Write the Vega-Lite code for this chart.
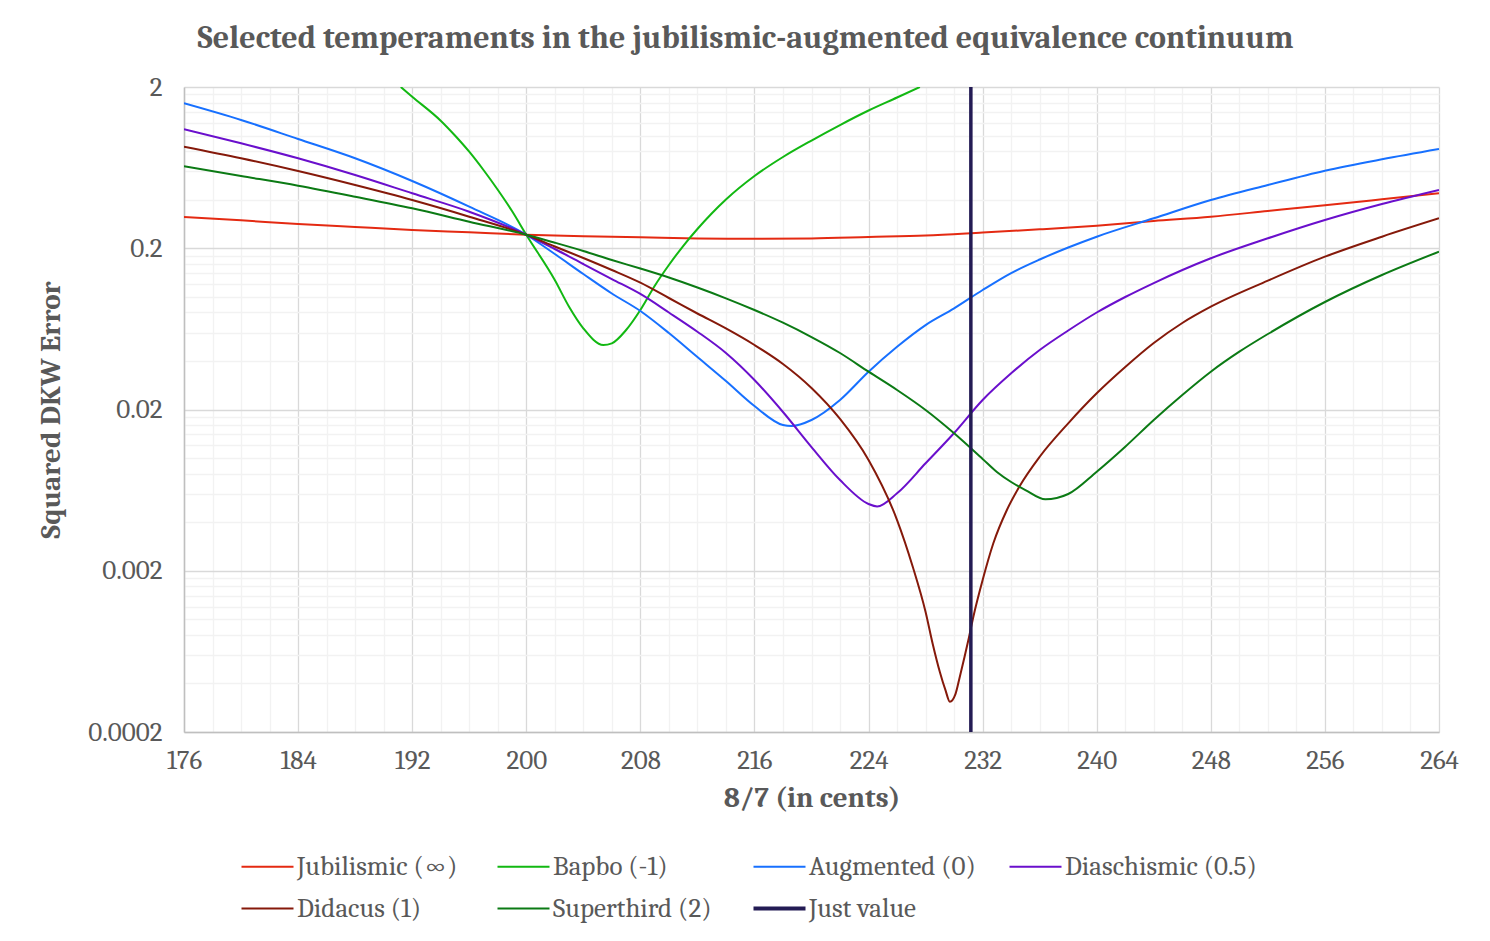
{
  "$schema": "https://vega.github.io/schema/vega-lite/v6.json",
  "width": 1255,
  "height": 645,
  "autosize": {"type": "none"},
  "padding": {"left": 184, "top": 87, "right": 51, "bottom": 209},
  "background": "#ffffff",
  "title": {
    "text": "Selected temperaments in the jubilismic-augmented equivalence continuum",
    "font": "Cambria, DejaVu Serif Condensed, DejaVu Serif, serif",
    "fontSize": 32,
    "fontWeight": "bold",
    "color": "#595959",
    "anchor": "middle",
    "dx": -66,
    "offset": 18
  },
  "config": {
    "view": {"stroke": null},
    "font": "Cambria, DejaVu Serif Condensed, DejaVu Serif, serif",
    "axis": {
      "labelFont": "Cambria, DejaVu Serif Condensed, DejaVu Serif, serif",
      "titleFont": "Cambria, DejaVu Serif Condensed, DejaVu Serif, serif",
      "labelColor": "#595959",
      "titleColor": "#595959",
      "labelFontSize": 27,
      "titleFontSize": 29,
      "titleFontWeight": "bold",
      "ticks": false,
      "domainColor": "#bfbfbf",
      "domainWidth": 1.5,
      "gridWidth": 1.3
    },
    "legend": {
      "labelFont": "Cambria, DejaVu Serif Condensed, DejaVu Serif, serif",
      "labelColor": "#595959",
      "labelFontSize": 27
    }
  },
  "datasets": {
    "curves": [
      {"series": "Jubilismic (∞)", "cents": 176, "error": 0.3126},
      {"series": "Jubilismic (∞)", "cents": 180, "error": 0.298},
      {"series": "Jubilismic (∞)", "cents": 184, "error": 0.2828},
      {"series": "Jubilismic (∞)", "cents": 188, "error": 0.2709},
      {"series": "Jubilismic (∞)", "cents": 192, "error": 0.2596},
      {"series": "Jubilismic (∞)", "cents": 196, "error": 0.2511},
      {"series": "Jubilismic (∞)", "cents": 200, "error": 0.2425},
      {"series": "Jubilismic (∞)", "cents": 204, "error": 0.2372},
      {"series": "Jubilismic (∞)", "cents": 208, "error": 0.2339},
      {"series": "Jubilismic (∞)", "cents": 212, "error": 0.2302},
      {"series": "Jubilismic (∞)", "cents": 216, "error": 0.2292},
      {"series": "Jubilismic (∞)", "cents": 220, "error": 0.2302},
      {"series": "Jubilismic (∞)", "cents": 224, "error": 0.2349},
      {"series": "Jubilismic (∞)", "cents": 228, "error": 0.2399},
      {"series": "Jubilismic (∞)", "cents": 232, "error": 0.2504},
      {"series": "Jubilismic (∞)", "cents": 236, "error": 0.262},
      {"series": "Jubilismic (∞)", "cents": 240, "error": 0.276},
      {"series": "Jubilismic (∞)", "cents": 244, "error": 0.2951},
      {"series": "Jubilismic (∞)", "cents": 248, "error": 0.3139},
      {"series": "Jubilismic (∞)", "cents": 252, "error": 0.3404},
      {"series": "Jubilismic (∞)", "cents": 256, "error": 0.3694},
      {"series": "Jubilismic (∞)", "cents": 260, "error": 0.4023},
      {"series": "Jubilismic (∞)", "cents": 264, "error": 0.4384},

      {"series": "Bapbo (-1)", "cents": 191.2, "error": 2.0},
      {"series": "Bapbo (-1)", "cents": 192, "error": 1.741},
      {"series": "Bapbo (-1)", "cents": 194, "error": 1.236},
      {"series": "Bapbo (-1)", "cents": 195, "error": 1.0005},
      {"series": "Bapbo (-1)", "cents": 196, "error": 0.7937},
      {"series": "Bapbo (-1)", "cents": 197, "error": 0.6113},
      {"series": "Bapbo (-1)", "cents": 198, "error": 0.4614},
      {"series": "Bapbo (-1)", "cents": 199, "error": 0.3404},
      {"series": "Bapbo (-1)", "cents": 200, "error": 0.2425},
      {"series": "Bapbo (-1)", "cents": 202, "error": 0.1271},
      {"series": "Bapbo (-1)", "cents": 203, "error": 0.08682},
      {"series": "Bapbo (-1)", "cents": 204, "error": 0.06378},
      {"series": "Bapbo (-1)", "cents": 205.4, "error": 0.05023},
      {"series": "Bapbo (-1)", "cents": 206, "error": 0.05146},
      {"series": "Bapbo (-1)", "cents": 207, "error": 0.06223},
      {"series": "Bapbo (-1)", "cents": 208, "error": 0.08281},
      {"series": "Bapbo (-1)", "cents": 209, "error": 0.1167},
      {"series": "Bapbo (-1)", "cents": 210, "error": 0.1574},
      {"series": "Bapbo (-1)", "cents": 211, "error": 0.2065},
      {"series": "Bapbo (-1)", "cents": 212, "error": 0.2633},
      {"series": "Bapbo (-1)", "cents": 213, "error": 0.3285},
      {"series": "Bapbo (-1)", "cents": 214, "error": 0.4012},
      {"series": "Bapbo (-1)", "cents": 216, "error": 0.5612},
      {"series": "Bapbo (-1)", "cents": 218, "error": 0.7363},
      {"series": "Bapbo (-1)", "cents": 220, "error": 0.9316},
      {"series": "Bapbo (-1)", "cents": 222, "error": 1.1622},
      {"series": "Bapbo (-1)", "cents": 224, "error": 1.4301},
      {"series": "Bapbo (-1)", "cents": 226, "error": 1.7218},
      {"series": "Bapbo (-1)", "cents": 227.6, "error": 2.0},

      {"series": "Augmented (0)", "cents": 176, "error": 1.585},
      {"series": "Augmented (0)", "cents": 180, "error": 1.2487},
      {"series": "Augmented (0)", "cents": 184, "error": 0.9517},
      {"series": "Augmented (0)", "cents": 188, "error": 0.7227},
      {"series": "Augmented (0)", "cents": 192, "error": 0.5224},
      {"series": "Augmented (0)", "cents": 196, "error": 0.362},
      {"series": "Augmented (0)", "cents": 200, "error": 0.2425},
      {"series": "Augmented (0)", "cents": 202, "error": 0.1842},
      {"series": "Augmented (0)", "cents": 204, "error": 0.1384},
      {"series": "Augmented (0)", "cents": 206, "error": 0.1048},
      {"series": "Augmented (0)", "cents": 208, "error": 0.08164},
      {"series": "Augmented (0)", "cents": 210, "error": 0.05962},
      {"series": "Augmented (0)", "cents": 212, "error": 0.04232},
      {"series": "Augmented (0)", "cents": 214, "error": 0.03004},
      {"series": "Augmented (0)", "cents": 216, "error": 0.02102},
      {"series": "Augmented (0)", "cents": 218, "error": 0.01603},
      {"series": "Augmented (0)", "cents": 218.6, "error": 0.0158},
      {"series": "Augmented (0)", "cents": 220, "error": 0.01722},
      {"series": "Augmented (0)", "cents": 222, "error": 0.02291},
      {"series": "Augmented (0)", "cents": 224, "error": 0.03431},
      {"series": "Augmented (0)", "cents": 226, "error": 0.04902},
      {"series": "Augmented (0)", "cents": 228, "error": 0.0668},
      {"series": "Augmented (0)", "cents": 230, "error": 0.0848},
      {"series": "Augmented (0)", "cents": 232, "error": 0.1102},
      {"series": "Augmented (0)", "cents": 234, "error": 0.1404},
      {"series": "Augmented (0)", "cents": 236, "error": 0.1703},
      {"series": "Augmented (0)", "cents": 238, "error": 0.2021},
      {"series": "Augmented (0)", "cents": 240, "error": 0.2359},
      {"series": "Augmented (0)", "cents": 244, "error": 0.3067},
      {"series": "Augmented (0)", "cents": 248, "error": 0.3983},
      {"series": "Augmented (0)", "cents": 252, "error": 0.4934},
      {"series": "Augmented (0)", "cents": 256, "error": 0.605},
      {"series": "Augmented (0)", "cents": 260, "error": 0.7125},
      {"series": "Augmented (0)", "cents": 264, "error": 0.8254},

      {"series": "Diaschismic (0.5)", "cents": 176, "error": 1.093},
      {"series": "Diaschismic (0.5)", "cents": 180, "error": 0.8953},
      {"series": "Diaschismic (0.5)", "cents": 184, "error": 0.7227},
      {"series": "Diaschismic (0.5)", "cents": 188, "error": 0.5692},
      {"series": "Diaschismic (0.5)", "cents": 192, "error": 0.4384},
      {"series": "Diaschismic (0.5)", "cents": 196, "error": 0.3371},
      {"series": "Diaschismic (0.5)", "cents": 200, "error": 0.2425},
      {"series": "Diaschismic (0.5)", "cents": 202, "error": 0.1979},
      {"series": "Diaschismic (0.5)", "cents": 204, "error": 0.1597},
      {"series": "Diaschismic (0.5)", "cents": 206, "error": 0.1289},
      {"series": "Diaschismic (0.5)", "cents": 208, "error": 0.1041},
      {"series": "Diaschismic (0.5)", "cents": 210, "error": 0.0799},
      {"series": "Diaschismic (0.5)", "cents": 212, "error": 0.06074},
      {"series": "Diaschismic (0.5)", "cents": 214, "error": 0.04482},
      {"series": "Diaschismic (0.5)", "cents": 216, "error": 0.03048},
      {"series": "Diaschismic (0.5)", "cents": 218, "error": 0.0193},
      {"series": "Diaschismic (0.5)", "cents": 220, "error": 0.0117},
      {"series": "Diaschismic (0.5)", "cents": 222, "error": 0.007307},
      {"series": "Diaschismic (0.5)", "cents": 224, "error": 0.005188},
      {"series": "Diaschismic (0.5)", "cents": 224.6, "error": 0.005005},
      {"series": "Diaschismic (0.5)", "cents": 226, "error": 0.006045},
      {"series": "Diaschismic (0.5)", "cents": 228, "error": 0.009278},
      {"series": "Diaschismic (0.5)", "cents": 230, "error": 0.0143},
      {"series": "Diaschismic (0.5)", "cents": 232, "error": 0.02291},
      {"series": "Diaschismic (0.5)", "cents": 234, "error": 0.03354},
      {"series": "Diaschismic (0.5)", "cents": 236, "error": 0.04677},
      {"series": "Diaschismic (0.5)", "cents": 238, "error": 0.06178},
      {"series": "Diaschismic (0.5)", "cents": 240, "error": 0.0799},
      {"series": "Diaschismic (0.5)", "cents": 242, "error": 0.0997},
      {"series": "Diaschismic (0.5)", "cents": 244, "error": 0.1217},
      {"series": "Diaschismic (0.5)", "cents": 248, "error": 0.1733},
      {"series": "Diaschismic (0.5)", "cents": 252, "error": 0.2305},
      {"series": "Diaschismic (0.5)", "cents": 256, "error": 0.2994},
      {"series": "Diaschismic (0.5)", "cents": 260, "error": 0.3762},
      {"series": "Diaschismic (0.5)", "cents": 264, "error": 0.4596},

      {"series": "Didacus (1)", "cents": 176, "error": 0.8527},
      {"series": "Didacus (1)", "cents": 180, "error": 0.7227},
      {"series": "Didacus (1)", "cents": 184, "error": 0.6025},
      {"series": "Didacus (1)", "cents": 188, "error": 0.4934},
      {"series": "Didacus (1)", "cents": 192, "error": 0.3983},
      {"series": "Didacus (1)", "cents": 196, "error": 0.3139},
      {"series": "Didacus (1)", "cents": 200, "error": 0.2425},
      {"series": "Didacus (1)", "cents": 202, "error": 0.2051},
      {"series": "Didacus (1)", "cents": 204, "error": 0.174},
      {"series": "Didacus (1)", "cents": 206, "error": 0.1466},
      {"series": "Didacus (1)", "cents": 208, "error": 0.1223},
      {"series": "Didacus (1)", "cents": 210, "error": 0.09829},
      {"series": "Didacus (1)", "cents": 212, "error": 0.07877},
      {"series": "Didacus (1)", "cents": 214, "error": 0.06359},
      {"series": "Didacus (1)", "cents": 216, "error": 0.05023},
      {"series": "Didacus (1)", "cents": 218, "error": 0.03831},
      {"series": "Didacus (1)", "cents": 220, "error": 0.02719},
      {"series": "Didacus (1)", "cents": 222, "error": 0.01747},
      {"series": "Didacus (1)", "cents": 224, "error": 0.009723},
      {"series": "Didacus (1)", "cents": 226, "error": 0.004126},
      {"series": "Didacus (1)", "cents": 227.1, "error": 0.002119},
      {"series": "Didacus (1)", "cents": 228, "error": 0.00111},
      {"series": "Didacus (1)", "cents": 228.5, "error": 0.000703},
      {"series": "Didacus (1)", "cents": 229, "error": 0.000471},
      {"series": "Didacus (1)", "cents": 229.4, "error": 0.000362},
      {"series": "Didacus (1)", "cents": 229.7, "error": 0.0003083},
      {"series": "Didacus (1)", "cents": 230.1, "error": 0.000345},
      {"series": "Didacus (1)", "cents": 230.4, "error": 0.0004406},
      {"series": "Didacus (1)", "cents": 231, "error": 0.000744},
      {"series": "Didacus (1)", "cents": 231.35, "error": 0.001038},
      {"series": "Didacus (1)", "cents": 232, "error": 0.001752},
      {"series": "Didacus (1)", "cents": 232.75, "error": 0.00296},
      {"series": "Didacus (1)", "cents": 233.7, "error": 0.004762},
      {"series": "Didacus (1)", "cents": 234.6, "error": 0.006707},
      {"series": "Didacus (1)", "cents": 236, "error": 0.01019},
      {"series": "Didacus (1)", "cents": 238, "error": 0.01642},
      {"series": "Didacus (1)", "cents": 240, "error": 0.02521},
      {"series": "Didacus (1)", "cents": 242, "error": 0.03669},
      {"series": "Didacus (1)", "cents": 244, "error": 0.05168},
      {"series": "Didacus (1)", "cents": 246, "error": 0.0688},
      {"series": "Didacus (1)", "cents": 248, "error": 0.08682},
      {"series": "Didacus (1)", "cents": 252, "error": 0.1259},
      {"series": "Didacus (1)", "cents": 256, "error": 0.1773},
      {"series": "Didacus (1)", "cents": 260, "error": 0.2359},
      {"series": "Didacus (1)", "cents": 264, "error": 0.3067},

      {"series": "Superthird (2)", "cents": 176, "error": 0.6443},
      {"series": "Superthird (2)", "cents": 180, "error": 0.5612},
      {"series": "Superthird (2)", "cents": 184, "error": 0.4886},
      {"series": "Superthird (2)", "cents": 188, "error": 0.4175},
      {"series": "Superthird (2)", "cents": 192, "error": 0.3538},
      {"series": "Superthird (2)", "cents": 196, "error": 0.2922},
      {"series": "Superthird (2)", "cents": 200, "error": 0.2425},
      {"series": "Superthird (2)", "cents": 202, "error": 0.2165},
      {"series": "Superthird (2)", "cents": 204, "error": 0.1923},
      {"series": "Superthird (2)", "cents": 206, "error": 0.169},
      {"series": "Superthird (2)", "cents": 208, "error": 0.1497},
      {"series": "Superthird (2)", "cents": 210, "error": 0.1317},
      {"series": "Superthird (2)", "cents": 212, "error": 0.1142},
      {"series": "Superthird (2)", "cents": 214, "error": 0.09786},
      {"series": "Superthird (2)", "cents": 216, "error": 0.08281},
      {"series": "Superthird (2)", "cents": 218, "error": 0.0691},
      {"series": "Superthird (2)", "cents": 220, "error": 0.0563},
      {"series": "Superthird (2)", "cents": 222, "error": 0.04482},
      {"series": "Superthird (2)", "cents": 224, "error": 0.03431},
      {"series": "Superthird (2)", "cents": 226, "error": 0.02642},
      {"series": "Superthird (2)", "cents": 228, "error": 0.01986},
      {"series": "Superthird (2)", "cents": 230, "error": 0.01424},
      {"series": "Superthird (2)", "cents": 232, "error": 0.009863},
      {"series": "Superthird (2)", "cents": 233, "error": 0.008193},
      {"series": "Superthird (2)", "cents": 234, "error": 0.0071},
      {"series": "Superthird (2)", "cents": 235, "error": 0.006334},
      {"series": "Superthird (2)", "cents": 236.4, "error": 0.005547},
      {"series": "Superthird (2)", "cents": 238, "error": 0.005984},
      {"series": "Superthird (2)", "cents": 240, "error": 0.008229},
      {"series": "Superthird (2)", "cents": 242, "error": 0.01176},
      {"series": "Superthird (2)", "cents": 244, "error": 0.01722},
      {"series": "Superthird (2)", "cents": 246, "error": 0.0246},
      {"series": "Superthird (2)", "cents": 248, "error": 0.03431},
      {"series": "Superthird (2)", "cents": 250, "error": 0.04566},
      {"series": "Superthird (2)", "cents": 252, "error": 0.05877},
      {"series": "Superthird (2)", "cents": 256, "error": 0.09283},
      {"series": "Superthird (2)", "cents": 260, "error": 0.1365},
      {"series": "Superthird (2)", "cents": 264, "error": 0.1904}
    ],
    "just": [
      {"series": "Just value", "cents": 231.174}
    ]
  },
  "encoding": {
    "x": {
      "field": "cents",
      "type": "quantitative",
      "title": "8/7 (in cents)",
      "scale": {"domain": [176, 264], "nice": false, "zero": false},
      "axis": {
        "values": [176,178,180,182,184,186,188,190,192,194,196,198,200,202,204,206,208,210,212,214,216,218,220,222,224,226,228,230,232,234,236,238,240,242,244,246,248,250,252,254,256,258,260,262,264],
        "labelExpr": "datum.value % 8 === 0 ? datum.label : ''",
        "gridColor": {"condition": {"test": "datum.value % 8 === 0", "value": "#d9d9d9"}, "value": "#f2f2f2"},
        "labelPadding": 15,
        "titlePadding": 10,
        "labelFlush": false,
        "labelOverlap": false
      }
    },
    "color": {
      "field": "series",
      "type": "nominal",
      "scale": {
        "domain": ["Jubilismic (∞)", "Bapbo (-1)", "Augmented (0)", "Diaschismic (0.5)", "Didacus (1)", "Superthird (2)", "Just value"],
        "range": ["#e42a12", "#12b812", "#1770ff", "#6a0fcc", "#85190a", "#0b7a14", "#231b54"]
      },
      "legend": {
        "title": null,
        "orient": "none",
        "legendX": 70,
        "legendY": 766,
        "direction": "horizontal",
        "columns": 4,
        "gridAlign": "all",
        "symbolType": "stroke",
        "symbolSize": 2704,
        "symbolStrokeWidth": 2,
        "labelOffset": 16,
        "columnPadding": 0,
        "rowPadding": 14,
        "labelLimit": 300,
        "encode": {
          "symbols": {"update": {"strokeWidth": {"signal": "datum.value === 'Just value' ? 4 : 2"}}}
        }
      }
    }
  },
  "layer": [
    {
      "data": {"name": "curves"},
      "mark": {"type": "line", "strokeWidth": 2, "interpolate": "monotone", "clip": true},
      "encoding": {
        "y": {
          "field": "error",
          "type": "quantitative",
          "title": "Squared DKW Error",
          "scale": {"type": "log", "domain": [0.0002, 2], "nice": false},
          "axis": {
            "values": [0.0002,0.0004,0.0006,0.0008,0.001,0.0012,0.0014,0.0016,0.0018,0.002,0.004,0.006,0.008,0.01,0.012,0.014,0.016,0.018,0.02,0.04,0.06,0.08,0.1,0.12,0.14,0.16,0.18,0.2,0.4,0.6,0.8,1,1.2,1.4,1.6,1.8,2],
            "format": "~g",
            "labelExpr": "(datum.value === 0.0002 || datum.value === 0.002 || datum.value === 0.02 || datum.value === 0.2 || datum.value === 2) ? datum.label : ''",
            "gridColor": {"condition": {"test": "datum.value === 0.0002 || datum.value === 0.002 || datum.value === 0.02 || datum.value === 0.2 || datum.value === 2", "value": "#d9d9d9"}, "value": "#f2f2f2"},
            "labelPadding": 22,
            "titlePadding": 22,
            "labelOverlap": false,
            "labelFlush": false
          }
        }
      }
    },
    {
      "data": {"name": "just"},
      "mark": {"type": "rule", "strokeWidth": 3.5},
      "encoding": {}
    }
  ]
}
